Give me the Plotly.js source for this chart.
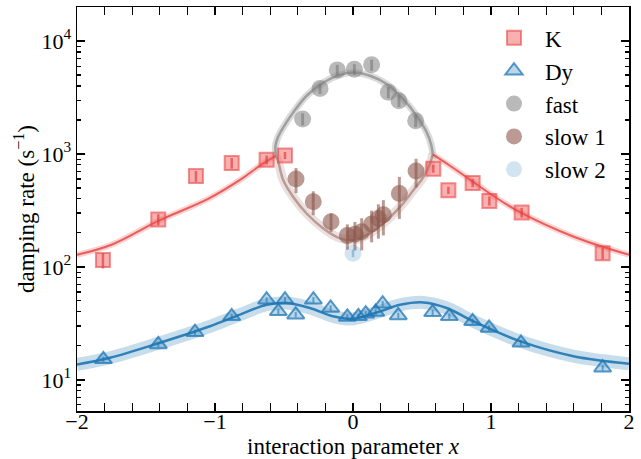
<!DOCTYPE html>
<html>
<head>
<meta charset="utf-8">
<script src="https://cdn.plot.ly/plotly-3.0.1.min.js"></script>
<style>html,body{margin:0;padding:0;background:#fff;}#chart{width:641px;height:459px;}</style>
</head>
<body>
<div id="chart"></div>
<script>
// ---- measured data ----
var kX = [-1.812, -1.411, -1.138, -0.879, -0.626, -0.493, 0.582, 0.691, 0.867, 0.988, 1.222, 1.809];
var kY = [115, 263, 637, 830, 889, 971, 741, 477, 553, 384, 303, 132];
var kErr = [18, 30, 70, 90, 80, 70, 60, 35, 45, 35, 30, 16];

var dyX = [-1.809, -1.411, -1.145, -0.879, -0.626, -0.541, -0.493, -0.415, -0.287, -0.162, -0.041, 0.039, 0.092, 0.164, 0.215, 0.328, 0.577, 0.698, 0.867, 0.986, 1.217, 1.809];
var dyY = [15.2, 20.6, 26.4, 36.5, 51.2, 40.4, 51.2, 37.8, 51.2, 43.3, 36.1, 36.5, 38.5, 39.9, 47.2, 37.2, 39.6, 36.5, 33.0, 28.8, 21.3, 12.8];
var dyErr = [0.8, 1.1, 1.4, 2.0, 2.8, 2.2, 2.8, 2.0, 2.8, 2.4, 2.0, 2.0, 2.1, 2.2, 2.6, 2.0, 2.2, 2.0, 1.8, 1.6, 1.2, 0.7];

var fastX = [-0.365, -0.239, -0.114, 0.010, 0.135, 0.256, 0.333, 0.454];
var fastY = [2042, 3802, 5550, 5625, 6150, 3510, 2960, 1972];
var fastErr = [250, 400, 600, 600, 700, 400, 350, 250];

var slow1X = [-0.413, -0.288, -0.159, -0.041, 0.014, 0.063, 0.135, 0.184, 0.220, 0.336, 0.457];
var slow1Y = [600, 377, 251, 190, 195, 205, 240, 268, 290, 446, 706];
var slow1Err = [150, 90, 47, 48, 55, 65, 75, 90, 100, 180, 200];

var slow2X = [0.0];
var slow2Y = [132];
var slow2Err = [10];

// fitted curves
var kFitLX = [-2.0, -1.75, -1.4, -1.05, -0.8, -0.68, -0.56];
var kFitLY = [128, 157, 259, 400, 610, 780, 960];
var kFitRX = [0.578, 0.7, 0.85, 1.0, 1.2, 1.6, 2.0];
var kFitRY = [990, 790, 590, 440, 310, 185, 128];

var dyFitX = [-2.0, -1.761, -1.399, -1.036, -0.819, -0.626, -0.481, -0.312, -0.143, -0.007, 0.196, 0.341, 0.510, 0.679, 0.872, 1.210, 1.597, 2.0];
var dyFitY = [13.7, 15.7, 21.3, 29.8, 37.8, 46.2, 47.9, 43.3, 36.5, 34.6, 40.4, 46.2, 48.5, 43.3, 33.0, 22.0, 16.2, 13.9];

var fastFitX = [-0.556, -0.563, -0.545, -0.505, -0.433, -0.336, -0.215, -0.094, 0.0, 0.123, 0.244, 0.364, 0.461, 0.534, 0.567, 0.578];
var fastFitY = [960, 1150, 1400, 1722, 2334, 3275, 4295, 5012, 5261, 4920, 4157, 3062, 2183, 1556, 1200, 1000];

var slowFitX = [-0.556, -0.541, -0.505, -0.433, -0.336, -0.215, -0.094, 0.002, 0.099, 0.220, 0.341, 0.437, 0.510, 0.558, 0.578];
var slowFitY = [960, 848, 585, 416, 297, 219, 179, 173, 191, 243, 340, 477, 625, 820, 1000];

var xTicks = [-2, -1, 0, 1, 2];
var yTickVals = [10, 100, 1000, 10000];
var yTickText = ['10<sup>1</sup>', '10<sup>2</sup>', '10<sup>3</sup>', '10<sup>4</sup>'];

// minor log tick positions (2..9 of each decade)
var yMinor = [];
[1, 10, 100, 1000, 10000].forEach(function (d) {
  for (var k = 2; k <= 9; k++) yMinor.push(k * d);
});

// ---- traces ----
function band(x, y, color, w) {
  return {x: x, y: y, mode: 'lines', line: {color: color, width: w, shape: 'spline'}, showlegend: false, hoverinfo: 'skip'};
}
var traces = [
  band(dyFitX, dyFitY, 'rgba(31,119,180,0.25)', 13),
  band(dyFitX, dyFitY, 'rgba(31,119,180,0.9)', 2.5),
  band(kFitLX, kFitLY, 'rgba(235,80,80,0.25)', 6),
  band(kFitLX, kFitLY, 'rgba(232,70,70,0.85)', 2),
  band(kFitRX, kFitRY, 'rgba(235,80,80,0.25)', 6),
  band(kFitRX, kFitRY, 'rgba(232,70,70,0.85)', 2),
  band(fastFitX, fastFitY, 'rgba(127,127,127,0.28)', 7),
  band(fastFitX, fastFitY, 'rgba(127,127,127,0.65)', 2.5),
  band(slowFitX, slowFitY, 'rgba(140,86,75,0.18)', 9),
  band(slowFitX, slowFitY, 'rgba(140,86,75,0.5)', 2.5),
  {x: kX, y: kY, name: 'K', mode: 'markers',
   marker: {symbol: 'square', size: 14, color: 'rgba(240,80,80,0.45)', line: {color: 'rgba(235,70,70,0.6)', width: 2}},
   error_y: {type: 'data', array: kErr, color: 'rgba(214,39,40,0.65)', thickness: 2.5, width: 0}},
  {x: dyX, y: dyY, name: 'Dy', mode: 'markers',
   marker: {symbol: 'triangle-up', size: 15, color: 'rgba(31,119,180,0.3)', line: {color: 'rgba(31,119,180,0.75)', width: 2}},
   error_y: {type: 'data', array: dyErr, color: 'rgba(31,119,180,0.6)', thickness: 2, width: 0}},
  {x: fastX, y: fastY, name: 'fast', mode: 'markers',
   marker: {symbol: 'circle', size: 17, color: 'rgba(127,127,127,0.55)', line: {width: 0}},
   error_y: {type: 'data', array: fastErr, color: 'rgba(100,100,100,0.55)', thickness: 3, width: 0}},
  {x: slow1X, y: slow1Y, name: 'slow 1', mode: 'markers',
   marker: {symbol: 'circle', size: 17, color: 'rgba(140,86,75,0.6)', line: {width: 0}},
   error_y: {type: 'data', array: slow1Err, color: 'rgba(140,86,75,0.6)', thickness: 3, width: 0}},
  {x: slow2X, y: slow2Y, name: 'slow 2', mode: 'markers', yaxis: 'y2',
   marker: {symbol: 'circle', size: 17, color: 'rgba(31,119,180,0.2)', line: {width: 0}},
   error_y: {type: 'data', array: slow2Err, color: 'rgba(31,119,180,0.35)', thickness: 2.5, width: 0}}
];

var FONT = 'Liberation Serif, Times New Roman, serif';
var YR = [Math.log10(5.3), Math.log10(2e4)];
var layout = {
  width: 641, height: 459,
  margin: {l: 77, r: 12, t: 7, b: 47.5},
  paper_bgcolor: '#fff', plot_bgcolor: '#fff',
  font: {family: FONT, size: 22, color: '#000'},
  showlegend: true,
  legend: {x: 0.7355, y: 0.977, xanchor: 'left', yanchor: 'top', bgcolor: 'rgba(0,0,0,0)',
           font: {family: FONT, size: 23}, tracegroupgap: 0, itemwidth: 52},
  xaxis: {range: [-2, 2], tickvals: xTicks, ticks: 'inside', ticklen: 8, tickwidth: 1.3, tickcolor: '#000',
          showline: true, linecolor: '#000', linewidth: 1.5, mirror: 'allticks', showgrid: false, zeroline: false,
          minor: {dtick: 0.2, ticks: 'inside', ticklen: 4, tickwidth: 1.1, tickcolor: '#000', showgrid: false},
          tickfont: {size: 22}, ticklabelstandoff: -10,
          title: {text: 'interaction parameter <i>x</i>', font: {size: 23}, standoff: 4}},
  yaxis: {type: 'log', range: YR, tickmode: 'array', tickvals: yTickVals, ticktext: yTickText,
          ticks: 'inside', ticklen: 8, tickwidth: 1.3, tickcolor: '#000',
          showline: true, linecolor: '#000', linewidth: 1.5, mirror: 'allticks', showgrid: false, zeroline: false,
          tickfont: {size: 22},
          title: {text: 'damping rate (s<sup>\u22121</sup>)', font: {size: 23}, standoff: 0}},
  yaxis2: {type: 'log', range: YR, overlaying: 'y', side: 'left', tickmode: 'array', tickvals: yMinor,
           ticks: 'inside', ticklen: 4, tickwidth: 1.1, tickcolor: '#000', showticklabels: false,
           showline: false, mirror: 'ticks', showgrid: false, zeroline: false}
};
Plotly.newPlot('chart', traces, layout, {displayModeBar: false, staticPlot: true});
</script>
</body>
</html>
